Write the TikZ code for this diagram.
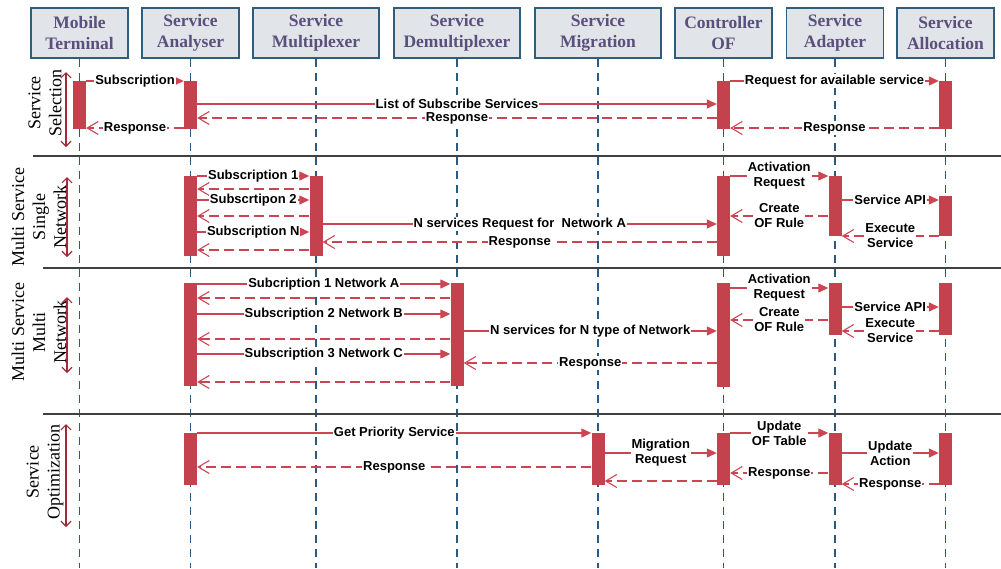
\documentclass[tikz,border=0pt]{standalone}
\usepackage{fontspec}
\setmainfont{Liberation Serif}
\newfontfamily\labfont{Liberation Sans}
\usetikzlibrary{arrows.meta}
\definecolor{boxfill}{HTML}{E1E5EA}
\definecolor{boxdraw}{HTML}{2F5D7C}
\definecolor{headtext}{HTML}{5B4F7D}
\definecolor{lifecol}{HTML}{2A5A82}
\definecolor{barred}{HTML}{C4414E}
\definecolor{msgred}{HTML}{CC4552}
\definecolor{secred}{HTML}{A02C3A}
\definecolor{sepcol}{HTML}{404040}
\tikzset{
  head/.style={draw=boxdraw, line width=1.2pt, fill=boxfill, minimum height=50pt, inner sep=0pt,
    align=center, text=headtext, font=\bfseries\fontsize{17.5}{21}\selectfont},
  life/.style={draw=lifecol, line width=1.6pt, dash pattern=on 8pt off 6pt},
  actbar/.style={fill=barred, draw=none, minimum width=13pt, inner sep=0pt, anchor=north},
  msg/.style={draw=msgred, line width=1.2pt, -{Triangle[length=10pt,width=9pt]}},
  ret/.style={draw=msgred, line width=1.2pt, dash pattern=on 10pt off 5pt,
    -{Straight Barb[length=11pt,width=13pt,line width=1.1pt]}},
  lbl/.style={fill=white, inner sep=1pt, align=center, text=black,
    font=\labfont\bfseries\fontsize{13}{15}\selectfont},
  seplne/.style={draw=sepcol, line width=2pt},
  secarrow/.style={draw=secred, line width=1.3pt,
    {Straight Barb[length=5pt,width=10pt,line width=1.2pt]}-{Straight Barb[length=5pt,width=10pt,line width=1.2pt]}},
  seclbl/.style={rotate=90, align=center, font=\fontsize{18}{21}\selectfont},
}
\begin{document}
\begin{tikzpicture}[x=1pt,y=-1pt]
\useasboundingbox (0,0) rectangle (1001,568);
% headers
\node[head, minimum width=97pt]  (mt)  at (79.5,33)  {Mobile\\Terminal};
\node[head, minimum width=97pt]  (an)  at (190.5,33) {Service\\Analyser};
\node[head, minimum width=126pt] (mux) at (316,33)   {Service\\Multiplexer};
\node[head, minimum width=126pt] (dmx) at (457,33)   {Service\\Demultiplexer};
\node[head, minimum width=126pt] (mig) at (598,33)   {Service\\Migration};
\node[head, minimum width=97pt]  (ctl) at (723.5,33) {Controller\\OF};
\node[head, minimum width=97pt]  (adp) at (835,33)   {Service\\Adapter};
\node[head, minimum width=97pt]  (alc) at (945.5,33) {Service\\Allocation};
% lifelines
\foreach \n in {mt,an,mux,dmx,mig,ctl,adp,alc}
  \draw[life] (\n.south) -- (\n.south |- 0,568);
% separators
\draw[seplne] (33,156) -- (1001,156);
\draw[seplne] (43,268) -- (1001,268);
\draw[seplne] (43,414) -- (1001,414);
% section labels
\node[seclbl] (sl1) at (45,103) {Service\\Selection};
\node[seclbl] (sl2) at (39,217) {Multi Service\\Single\\Network};
\node[seclbl] (sl3) at (39,332) {Multi Service\\Multi\\Network};
\node[seclbl] (sl4) at (45,472) {Service\\Optimization};
\coordinate (a1t) at (66,72);  \coordinate (a1b) at (66,147);
\coordinate (a2t) at (67,177); \coordinate (a2b) at (67,257);
\coordinate (a3t) at (67,297); \coordinate (a3b) at (67,373);
\coordinate (a4t) at (66,424); \coordinate (a4b) at (66,527);
\draw[secarrow] (a1t) -- (a1b);
\draw[secarrow] (a2t) -- (a2b);
\draw[secarrow] (a3t) -- (a3b);
\draw[secarrow] (a4t) -- (a4b);
% ===== Section 1
\node[actbar, minimum height=48pt] (mt1)  at (mt.south |- 0,81) {};
\node[actbar, minimum height=48pt] (an1)  at (an.south |- 0,81) {};
\node[actbar, minimum height=48pt] (ctl1) at (ctl.south |- 0,81) {};
\node[actbar, minimum height=48pt] (alc1) at (alc.south |- 0,81) {};
\draw[msg] (mt1.east |- 0,81) -- node[lbl]{Subscription} (an1.west |- 0,81);
\draw[msg] (an1.east |- 0,104) -- node[lbl]{List of Subscribe Services} (ctl1.west |- 0,104);
\draw[ret] (ctl1.west |- 0,118) -- node[lbl]{Response} (an1.east |- 0,118);
\draw[ret] (an1.west |- 0,128) -- node[lbl]{Response} (mt1.east |- 0,128);
\draw[msg] (ctl1.east |- 0,81) -- node[lbl]{Request for available service} (alc1.west |- 0,81);
\draw[ret] (alc1.west |- 0,128) -- node[lbl]{Response} (ctl1.east |- 0,128);
% ===== Section 2
\node[actbar, minimum height=80pt] (an2)  at (an.south |- 0,176) {};
\node[actbar, minimum height=80pt] (mux2) at (mux.south |- 0,176) {};
\node[actbar, minimum height=80pt] (ctl2) at (ctl.south |- 0,176) {};
\node[actbar, minimum height=60pt] (adp2) at (adp.south |- 0,176) {};
\node[actbar, minimum height=40pt] (alc2) at (alc.south |- 0,196) {};
\draw[msg] (an2.east |- 0,176) -- node[lbl]{Subscription 1} (mux2.west |- 0,176);
\draw[ret] (mux2.west |- 0,189) -- (an2.east |- 0,189);
\draw[msg] (an2.east |- 0,200) -- node[lbl]{Subscrtipon 2} (mux2.west |- 0,200);
\draw[ret] (mux2.west |- 0,216) -- (an2.east |- 0,216);
\draw[msg] (an2.east |- 0,232) -- node[lbl]{Subscription N} (mux2.west |- 0,232);
\draw[ret] (mux2.west |- 0,250) -- (an2.east |- 0,250);
\draw[msg] (mux2.east |- 0,224) -- node[lbl]{N services Request for~ Network A} (ctl2.west |- 0,224);
\draw[ret] (ctl2.west |- 0,242) -- node[lbl]{Response} (mux2.east |- 0,242);
\draw[msg] (ctl2.east |- 0,176) -- node[lbl]{Activation\\Request} (adp2.west |- 0,176);
\draw[msg] (adp2.east |- 0,200) -- node[lbl]{Service API} (alc2.west |- 0,200);
\draw[ret] (adp2.west |- 0,216) -- node[lbl]{Create\\OF Rule} (ctl2.east |- 0,216);
\draw[ret] (alc2.west |- 0,236) -- node[lbl]{Execute\\Service} (adp2.east |- 0,236);
% ===== Section 3
\node[actbar, minimum height=103pt] (an3)  at (an.south |- 0,283) {};
\node[actbar, minimum height=103pt] (dmx3) at (dmx.south |- 0,283) {};
\node[actbar, minimum height=104pt] (ctl3) at (ctl.south |- 0,283) {};
\node[actbar, minimum height=52pt]  (adp3) at (adp.south |- 0,283) {};
\node[actbar, minimum height=52pt]  (alc3) at (alc.south |- 0,283) {};
\draw[msg] (an3.east |- 0,284) -- node[lbl]{Subcription 1 Network A} (dmx3.west |- 0,284);
\draw[ret] (dmx3.west |- 0,298) -- (an3.east |- 0,298);
\draw[msg] (an3.east |- 0,314) -- node[lbl]{Subscription 2 Network B} (dmx3.west |- 0,314);
\draw[ret] (dmx3.west |- 0,339) -- (an3.east |- 0,339);
\draw[msg] (an3.east |- 0,354) -- node[lbl]{Subscription 3 Network C} (dmx3.west |- 0,354);
\draw[ret] (dmx3.west |- 0,382) -- (an3.east |- 0,382);
\draw[msg] (dmx3.east |- 0,331) -- node[lbl]{N services for N type of Network} (ctl3.west |- 0,331);
\draw[ret] (ctl3.west |- 0,363) -- node[lbl]{Response} (dmx3.east |- 0,363);
\draw[msg] (ctl3.east |- 0,288) -- node[lbl]{Activation\\Request} (adp3.west |- 0,288);
\draw[msg] (adp3.east |- 0,307) -- node[lbl]{Service API} (alc3.west |- 0,307);
\draw[ret] (adp3.west |- 0,320) -- node[lbl]{Create\\OF Rule} (ctl3.east |- 0,320);
\draw[ret] (alc3.west |- 0,331) -- node[lbl]{Execute\\Service} (adp3.east |- 0,331);
% ===== Section 4
\node[actbar, minimum height=52pt] (an4)  at (an.south |- 0,433) {};
\node[actbar, minimum height=52pt] (mig4) at (mig.south |- 0,433) {};
\node[actbar, minimum height=52pt] (ctl4) at (ctl.south |- 0,433) {};
\node[actbar, minimum height=52pt] (adp4) at (adp.south |- 0,433) {};
\node[actbar, minimum height=52pt] (alc4) at (alc.south |- 0,433) {};
\draw[msg] (an4.east |- 0,433) -- node[lbl]{Get Priority Service} (mig4.west |- 0,433);
\draw[ret] (mig4.west |- 0,467) -- node[lbl]{Response} (an4.east |- 0,467);
\draw[msg] (mig4.east |- 0,453) -- node[lbl]{Migration\\Request} (ctl4.west |- 0,453);
\draw[ret] (ctl4.west |- 0,481) -- (mig4.east |- 0,481);
\draw[msg] (ctl4.east |- 0,433) -- node[lbl]{Update\\OF Table} (adp4.west |- 0,433);
\draw[ret] (adp4.west |- 0,473) -- node[lbl]{Response} (ctl4.east |- 0,473);
\draw[msg] (adp4.east |- 0,453) -- node[lbl]{Update\\Action} (alc4.west |- 0,453);
\draw[ret] (alc4.west |- 0,484) -- node[lbl]{Response} (adp4.east |- 0,484);
\end{tikzpicture}
\end{document}
